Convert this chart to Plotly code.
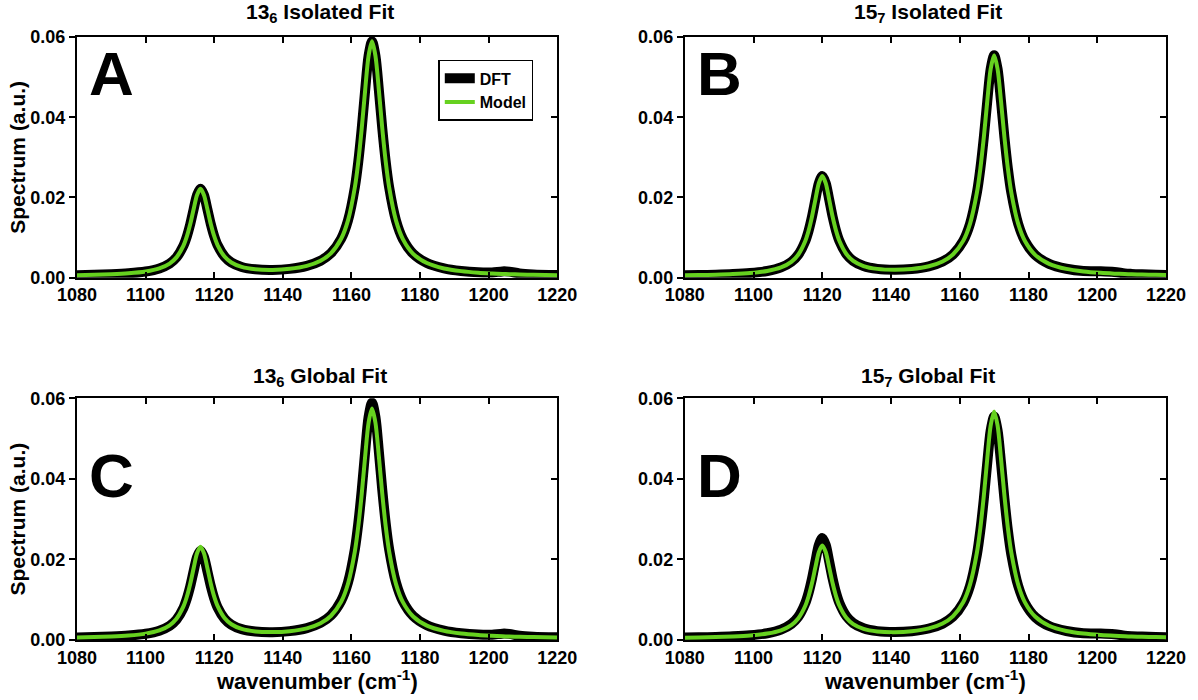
import plotly.graph_objects as go

# ---------------- data ----------------
wn_13 = [1080, 1085, 1090, 1095, 1100, 1104, 1107, 1109, 1111, 1112, 1113, 1114, 1115, 1116,
         1117, 1118, 1119, 1120, 1121, 1123, 1125, 1128, 1132, 1137, 1142, 1147, 1151, 1154,
         1157, 1159, 1161, 1162, 1163, 1164, 1165, 1166, 1167, 1168, 1169, 1170, 1171, 1173,
         1175, 1178, 1182, 1187, 1192, 1197, 1201, 1204, 1206, 1209, 1213, 1220]

dft_13 = [0.00063, 0.00072, 0.00086, 0.00109, 0.00154, 0.00231, 0.00352, 0.00507, 0.00793, 0.01023,
          0.0133, 0.01706, 0.0206, 0.02215, 0.02063, 0.01711, 0.01339, 0.01034, 0.00808, 0.00528,
          0.00379, 0.00269, 0.0021, 0.00195, 0.00221, 0.00295, 0.00423, 0.00608, 0.00971, 0.0143,
          0.02255, 0.02892, 0.03718, 0.04674, 0.05531, 0.05891, 0.0553, 0.04672, 0.03715, 0.02889,
          0.0225, 0.01423, 0.00963, 0.00596, 0.00365, 0.00233, 0.00167, 0.00134, 0.00131, 0.00158,
          0.00152, 0.00106, 0.00082, 0.00066]

model_13_isolated = [0.00063, 0.00072, 0.00086, 0.00109, 0.00154, 0.00231, 0.00352, 0.00507, 0.00793, 0.01023,
                     0.0133, 0.01706, 0.0206, 0.02215, 0.02063, 0.01711, 0.01339, 0.01034, 0.00808, 0.00528,
                     0.00379, 0.00269, 0.0021, 0.00195, 0.00221, 0.00295, 0.00423, 0.00608, 0.00971, 0.0143,
                     0.02255, 0.02892, 0.03718, 0.04674, 0.05531, 0.05891, 0.0553, 0.04672, 0.03715, 0.02889,
                     0.0225, 0.01423, 0.00963, 0.00596, 0.00365, 0.00231, 0.00164, 0.00125, 0.00106, 0.00095,
                     0.00089, 0.00081, 0.00073, 0.00063]

model_13_global = [0.00064, 0.00073, 0.00087, 0.00111, 0.00158, 0.00238, 0.00365, 0.00527, 0.00827, 0.01067,
                   0.01389, 0.01781, 0.02152, 0.02315, 0.02155, 0.01787, 0.01397, 0.01078, 0.00841, 0.00547,
                   0.00391, 0.00275, 0.00212, 0.00196, 0.00219, 0.0029, 0.00415, 0.00595, 0.00948, 0.01395,
                   0.02199, 0.0282, 0.03624, 0.04556, 0.05391, 0.05742, 0.0539, 0.04554, 0.03621, 0.02816,
                   0.02194, 0.01388, 0.00939, 0.00582, 0.00356, 0.00226, 0.0016, 0.00123, 0.00104, 0.00093,
                   0.00087, 0.0008, 0.00072, 0.00062]

wn_15 = [1080, 1084, 1089, 1094, 1099, 1104, 1108, 1111, 1113, 1115, 1116, 1117, 1118, 1119, 1120,
         1121, 1122, 1123, 1124, 1125, 1127, 1129, 1132, 1136, 1141, 1146, 1151, 1155, 1158, 1161,
         1163, 1165, 1166, 1167, 1168, 1169, 1170, 1171, 1172, 1173, 1174, 1175, 1177, 1179, 1182,
         1186, 1191, 1196, 1201, 1205, 1208, 1210, 1213, 1217, 1220]

dft_15 = [0.0006, 0.00066, 0.00076, 0.00091, 0.00117, 0.00168, 0.00256, 0.00395, 0.00572, 0.00901,
          0.01164, 0.01517, 0.01948, 0.02355, 0.02533, 0.02358, 0.01954, 0.01525, 0.01175, 0.00914,
          0.00592, 0.0042, 0.00291, 0.0022, 0.00198, 0.00218, 0.00285, 0.00404, 0.00578, 0.00918,
          0.01349, 0.02125, 0.02724, 0.035, 0.04399, 0.05204, 0.05543, 0.05203, 0.04397, 0.03497,
          0.0272, 0.02119, 0.01342, 0.00909, 0.00564, 0.00346, 0.00223, 0.00166, 0.00162, 0.00144,
          0.00107, 0.00095, 0.00084, 0.00074, 0.00068]

model_15_isolated = [0.0006, 0.00066, 0.00076, 0.00091, 0.00117, 0.00168, 0.00256, 0.00395, 0.00572, 0.00901,
                     0.01164, 0.01517, 0.01948, 0.02355, 0.02533, 0.02358, 0.01954, 0.01525, 0.01175, 0.00914,
                     0.00592, 0.0042, 0.00291, 0.0022, 0.00198, 0.00218, 0.00285, 0.00404, 0.00578, 0.00918,
                     0.01349, 0.02125, 0.02724, 0.035, 0.04399, 0.05204, 0.05543, 0.05203, 0.04397, 0.03497,
                     0.0272, 0.02119, 0.01342, 0.00909, 0.00564, 0.00346, 0.0022, 0.00157, 0.00121, 0.00102,
                     0.00091, 0.00086, 0.00079, 0.00071, 0.00067]

model_15_global = [0.00059, 0.00064, 0.00073, 0.00088, 0.00112, 0.0016, 0.00241, 0.00369, 0.00533, 0.00837,
                   0.0108, 0.01406, 0.01804, 0.0218, 0.02344, 0.02182, 0.01809, 0.01414, 0.01091, 0.0085,
                   0.00553, 0.00395, 0.00277, 0.00213, 0.00195, 0.00218, 0.00288, 0.0041, 0.00588, 0.00937,
                   0.01379, 0.02173, 0.02786, 0.0358, 0.045, 0.05325, 0.05672, 0.05324, 0.04499, 0.03578,
                   0.02782, 0.02168, 0.01372, 0.00928, 0.00576, 0.00353, 0.00224, 0.00159, 0.00122, 0.00103,
                   0.00093, 0.00087, 0.00079, 0.00072, 0.00067]

panel_titles = ["13<sub>6</sub> Isolated Fit", "15<sub>7</sub> Isolated Fit",
                "13<sub>6</sub> Global Fit", "15<sub>7</sub> Global Fit"]
panel_letters = ["A", "B", "C", "D"]
x_ticks = [1080, 1100, 1120, 1140, 1160, 1180, 1200, 1220]
y_ticks = [0.00, 0.02, 0.04, 0.06]
y_tick_text = ["0.00", "0.02", "0.04", "0.06"]

# ---------------- figure ----------------
FONT = "Liberation Sans, Arial, Helvetica, sans-serif"
BLACK = "#000000"
GREEN = "#66d11f"

panels = [
    (wn_13, dft_13, model_13_isolated),
    (wn_15, dft_15, model_15_isolated),
    (wn_13, dft_13, model_13_global),
    (wn_15, dft_15, model_15_global),
]

x_domains = [[0.0, 0.441], [0.5581, 1.0], [0.0, 0.441], [0.5581, 1.0]]
y_domains = [[0.6008, 1.0], [0.6008, 1.0], [0.0, 0.401], [0.0, 0.401]]

fig = go.Figure()

for i, (wn, dft, model) in enumerate(panels):
    xa = "x" if i == 0 else f"x{i+1}"
    ya = "y" if i == 0 else f"y{i+1}"
    fig.add_trace(go.Scatter(x=wn, y=dft, mode="lines", name="DFT",
                             line=dict(color=BLACK, width=10, shape="spline", smoothing=0.8),
                             xaxis=xa, yaxis=ya, showlegend=(i == 0)))
    fig.add_trace(go.Scatter(x=wn, y=model, mode="lines", name="Model",
                             line=dict(color=GREEN, width=4, shape="spline", smoothing=0.8),
                             xaxis=xa, yaxis=ya, showlegend=(i == 0)))

layout = dict(
    width=1198, height=700,
    margin=dict(l=77, r=28, t=37, b=60),
    plot_bgcolor="white", paper_bgcolor="white",
    font=dict(family=FONT, size=15, color="black"),
    legend=dict(x=0.419, y=0.962, xanchor="right", yanchor="top",
                bgcolor="white", bordercolor="black", borderwidth=1.5,
                font=dict(family=FONT, size=16, color="black", weight="bold"),
                itemwidth=30, tracegroupgap=0),
    annotations=[],
)

tick_font = dict(family=FONT, size=18, color="black", weight="bold")

for i in range(4):
    xk = "xaxis" if i == 0 else f"xaxis{i+1}"
    yk = "yaxis" if i == 0 else f"yaxis{i+1}"
    ya_ref = "y" if i == 0 else f"y{i+1}"
    xa_ref = "x" if i == 0 else f"x{i+1}"
    layout[xk] = dict(domain=x_domains[i], anchor=ya_ref, range=[1080, 1220],
                      tickvals=x_ticks, ticktext=[str(v) for v in x_ticks],
                      ticks="inside", ticklen=6, tickwidth=2, tickcolor="black",
                      showline=True, linewidth=2, linecolor="black", mirror="ticks",
                      showgrid=False, zeroline=False, tickfont=tick_font)
    layout[yk] = dict(domain=y_domains[i], anchor=xa_ref, range=[0, 0.06],
                      tickvals=y_ticks, ticktext=y_tick_text,
                      ticks="outside", ticklen=6, tickwidth=2, tickcolor="black",
                      showline=True, linewidth=2, linecolor="black", mirror=False,
                      showgrid=False, zeroline=False, tickfont=tick_font)
    # right-hand axis with inward ticks
    rk = f"yaxis{i+5}"
    layout[rk] = dict(overlaying=ya_ref, anchor=xa_ref, side="right", range=[0, 0.06],
                      tickvals=y_ticks, showticklabels=False,
                      ticks="inside", ticklen=6, tickwidth=2, tickcolor="black",
                      showline=True, linewidth=2, linecolor="black",
                      showgrid=False, zeroline=False)

fig.update_layout(**layout)

# invisible traces so the right-hand axes get drawn
for i in range(4):
    xa = "x" if i == 0 else f"x{i+1}"
    fig.add_trace(go.Scatter(x=[1080], y=[0], mode="markers", marker=dict(opacity=0),
                             xaxis=xa, yaxis=f"y{i+5}", showlegend=False, hoverinfo="skip"))

title_font = dict(family=FONT, size=21, color="black", weight="bold")
title_pos = [(0.2232, 1.0400), (0.7817, 1.0400), (0.2232, 0.4363), (0.7817, 0.4363)]
letter_pos = [(0.0092, 0.9387), (0.5673, 0.9387), (0.0092, 0.2735), (0.5673, 0.2735)]

for i in range(4):
    fig.add_annotation(text=panel_titles[i], x=title_pos[i][0], y=title_pos[i][1],
                       xref="paper", yref="paper", xanchor="center", yanchor="middle",
                       showarrow=False, font=title_font)
    fig.add_annotation(text=panel_letters[i], x=letter_pos[i][0], y=letter_pos[i][1],
                       xref="paper", yref="paper", xanchor="left", yanchor="middle",
                       showarrow=False, font=dict(family=FONT, size=62, color="black", weight="bold"))

for yc in [0.80, 0.20]:
    fig.add_annotation(text="Spectrum (a.u.)", x=-0.0549, y=yc, xref="paper", yref="paper",
                       xanchor="center", yanchor="middle", textangle=-90, showarrow=False,
                       font=dict(family=FONT, size=21, color="black", weight="bold"))

for xc in [0.2205, 0.779]:
    fig.add_annotation(text="wavenumber (cm<sup>-1</sup>)", x=xc, y=-0.0663, xref="paper", yref="paper",
                       xanchor="center", yanchor="middle", showarrow=False,
                       font=dict(family=FONT, size=22, color="black", weight="bold"))

fig.write_html("out.html")
